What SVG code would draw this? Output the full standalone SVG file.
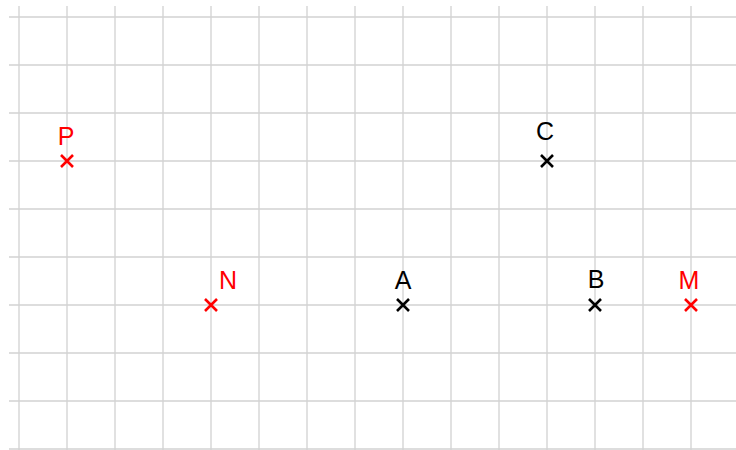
<svg xmlns="http://www.w3.org/2000/svg" width="736" height="450" viewBox="0 0 736 450">
<style>
.g{stroke:#d2d2d2;stroke-width:1.3;fill:none}
.x{stroke-width:2.6;fill:none;stroke-linecap:butt}
.r{stroke:#ff0000}
.k{stroke:#000}
.t{font-family:"Liberation Sans",Arial,sans-serif;font-size:25px;text-anchor:middle}
.tr{fill:#ff0000}
.tk{fill:#000}
</style>
<defs>
<path id="cr" d="M-6,-6L6,6M-6,6L6,-6"/>
</defs>
<rect width="736" height="450" fill="#fff"/>
<g id="grid" class="g">
<path d="M19,6V450M67,6V450M115,6V450M163,6V450M211,6V450M259,6V450M307,6V450M355,6V450M403,6V450M451,6V450M499,6V450M547,6V450M595,6V450M643,6V450M691,6V450"/>
<path d="M9,17H736M9,65H736M9,113H736M9,161H736M9,209H736M9,257H736M9,305H736M9,353H736M9,401H736M9,449H736"/>
</g>
<g id="P"><use href="#cr" x="67" y="161" class="x r"/><text x="66" y="145" class="t tr">P</text></g>
<g id="C"><use href="#cr" x="547" y="161" class="x k"/><text x="545" y="140" class="t tk">C</text></g>
<g id="N"><use href="#cr" x="211" y="305" class="x r"/><text x="228" y="289" class="t tr">N</text></g>
<g id="A"><use href="#cr" x="403" y="305" class="x k"/><text x="403" y="289" class="t tk">A</text></g>
<g id="B"><use href="#cr" x="595" y="305" class="x k"/><text x="596" y="288" class="t tk">B</text></g>
<g id="M"><use href="#cr" x="691" y="305" class="x r"/><text x="689" y="289" class="t tr">M</text></g>
<g id="connectors"/>
</svg>
